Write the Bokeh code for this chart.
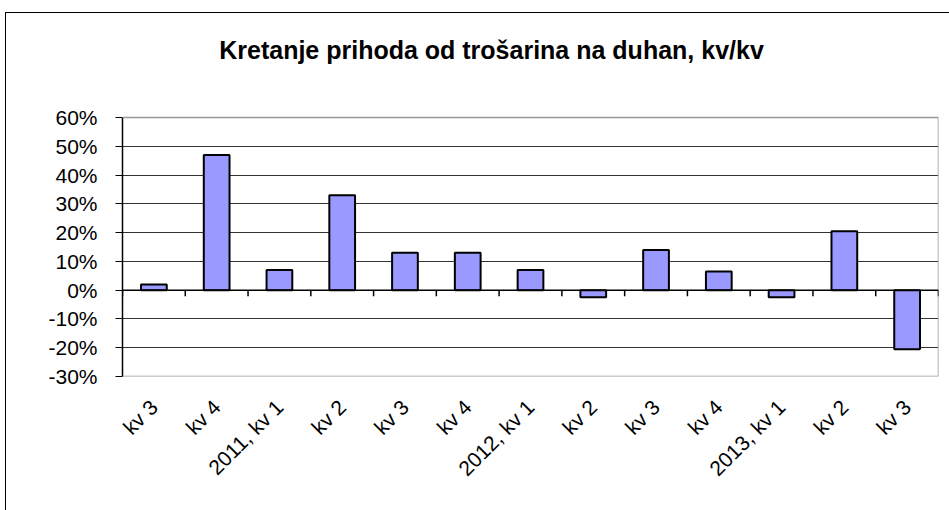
from bokeh.plotting import figure
from bokeh.models import FixedTicker, PrintfTickFormatter, Span, Label
from bokeh.embed import file_html
from bokeh.resources import INLINE
import math

title_text = "Kretanje prihoda od trošarina na duhan, kv/kv"
categories = ["kv 3", "kv 4", "2011, kv 1", "kv 2", "kv 3", "kv 4",
              "2012, kv 1", "kv 2", "kv 3", "kv 4", "2013, kv 1", "kv 2", "kv 3"]
values = [2.0, 47.0, 7.0, 33.0, 13.0, 13.0, 7.0, -2.5, 14.0, 6.5, -2.5, 20.5, -20.5]
y_ticks = [-30, -20, -10, 0, 10, 20, 30, 40, 50, 60]

positions = list(range(1, len(categories) + 1))
boundaries = [pos - 0.5 for pos in positions] + [positions[-1] + 0.5]
FONT = "Liberation Sans"

# layout (pixels)
FIG_W, FIG_H = 944, 498
BORDER_L, BORDER_R, BORDER_T, BORDER_B = 116, 12, 10, 135
AREA_TOP_PX = 94          # distance from frame top down to the 60% line
TITLE_FROM_AREA_PX = 68   # title centre above the 60% line
TITLE_X_PX = 369          # title centre from the plot area's left edge

y_min, y_max = y_ticks[0], y_ticks[-1]
area_h = FIG_H - BORDER_T - BORDER_B - AREA_TOP_PX
px_per_unit = area_h / (y_max - y_min)
y_top = y_max + AREA_TOP_PX / px_per_unit
x_lo, x_hi = 0.5, len(categories) + 0.5
px_per_x = (FIG_W - BORDER_L - BORDER_R) / (x_hi - x_lo)

p = figure(width=FIG_W, height=FIG_H, x_range=(x_lo, x_hi), y_range=(y_min, y_top),
           output_backend="svg", toolbar_location=None,
           min_border_left=BORDER_L, min_border_right=BORDER_R,
           min_border_top=BORDER_T, min_border_bottom=BORDER_B)
p.styles = {"border-left": "1px solid black", "border-top": "1px solid black",
            "margin-left": "5px", "margin-top": "12px"}
p.outline_line_color = None

p.add_layout(Label(x=x_lo + TITLE_X_PX / px_per_x, y=y_max + TITLE_FROM_AREA_PX / px_per_unit,
                   text=title_text, text_font=FONT, text_font_size="25px",
                   text_font_style="bold", text_color="black",
                   text_align="center", text_baseline="middle"))

# plot-area box (grey) on top, right and bottom
for loc in (y_min, y_max):
    p.add_layout(Span(location=loc, dimension="width", line_color="#999999", line_width=1.5))
p.segment(x0=[x_hi], y0=[y_min], x1=[x_hi], y1=[y_max], line_color="#999999", line_width=1.5)

p.xgrid.visible = False
p.ygrid.ticker = FixedTicker(ticks=[t for t in y_ticks if t not in (y_min, 0, y_max)])
p.ygrid.grid_line_color = "#333333"
p.ygrid.grid_line_width = 1

p.vbar(x=positions, top=values, bottom=0, width=0.41,
       fill_color="#9999FF", line_color="black", line_width=2)

# zero line with category boundary ticks
p.add_layout(Span(location=0, dimension="width", line_color="black", line_width=1.5))
p.segment(x0=boundaries, y0=[0] * len(boundaries), x1=boundaries,
          y1=[-6 / px_per_unit] * len(boundaries), line_color="black", line_width=1.5)

# y axis
p.yaxis.ticker = FixedTicker(ticks=y_ticks)
p.yaxis.bounds = (y_min, y_max)
p.yaxis.formatter = PrintfTickFormatter(format="%d%%")
p.yaxis.axis_line_color = "black"
p.yaxis.axis_line_width = 1.5
p.yaxis.major_tick_line_color = "black"
p.yaxis.major_tick_out = 7
p.yaxis.major_tick_in = 0
p.yaxis.minor_tick_line_color = None
p.yaxis.major_label_text_font = FONT
p.yaxis.major_label_text_font_size = "21px"
p.yaxis.major_label_text_color = "black"
p.yaxis.major_label_standoff = 18

# x axis labels
xa = p.below[0]
xa.ticker = FixedTicker(ticks=positions)
xa.major_label_overrides = {pos: lab for pos, lab in zip(positions, categories)}
xa.major_label_orientation = math.pi / 4
xa.axis_line_color = None
xa.major_tick_line_color = None
xa.minor_tick_line_color = None
xa.major_tick_out = 0
xa.major_tick_in = 0
xa.major_label_text_font = FONT
xa.major_label_text_font_size = "21px"
xa.major_label_text_color = "black"
xa.major_label_standoff = 27

open("out.html", "w").write(file_html(p, INLINE))
